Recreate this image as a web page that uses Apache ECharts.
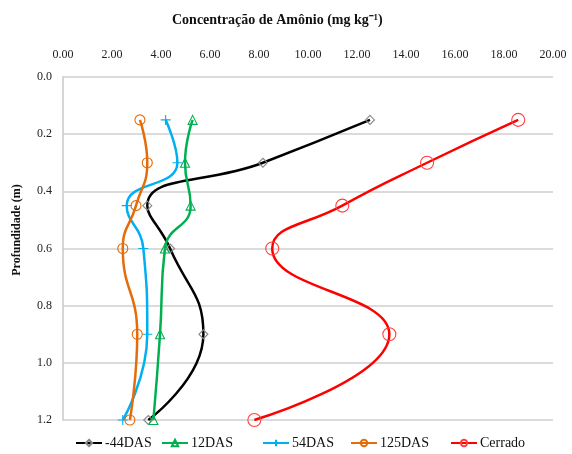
<!DOCTYPE html>
<html><head><meta charset="utf-8">
<script src="https://cdn.jsdelivr.net/npm/echarts@6/dist/echarts.min.js"></script>
<style>html,body{margin:0;padding:0;background:#fff}#c{width:572px;height:454px}</style>
</head><body><div id="c"></div>
<script>
const depths = [0.15, 0.3, 0.45, 0.6, 0.9, 1.2];
const das_m44 = [12.53, 8.16, 3.44, 4.37, 5.73, 3.48];
const das_12 = [5.29, 4.98, 5.21, 4.16, 3.96, 3.69];
const das_54 = [4.19, 4.67, 2.60, 3.28, 3.44, 2.44];
const das_125 = [3.14, 3.44, 2.98, 2.44, 3.03, 2.73];
const cerrado = [18.58, 14.86, 11.40, 8.54, 13.32, 7.81];
const seriesNames = ['-44DAS', '12DAS', '54DAS', '125DAS', 'Cerrado'];
const xTicks = [0, 2, 4, 6, 8, 10, 12, 14, 16, 18, 20];
const yTicks = [0, 0.2, 0.4, 0.6, 0.8, 1.0, 1.2];
const titleText = 'Concentração de Amônio (mg kg⁻¹)';
const yTitleText = 'Profundidade (m)';

const font = 'Liberation Serif, Times New Roman, serif';
function pts(vals){ return vals.map((v,i)=>[v, depths[i]]); }
function mk(name, vals, color, symbol, size, mColor){
  return {
    name, type:'line', data: pts(vals), smooth: 0.5,
    symbol, symbolSize: size, showSymbol:true,
    lineStyle:{color, width:2.5},
    itemStyle:{color:'rgba(255,255,255,0)', borderColor:mColor, borderWidth:1.1},
    emphasis:{disabled:true}
  };
}
const legendLefts = [70, 156, 257, 345, 445];
const legends = seriesNames.map((n,i)=>({
  data:[n], left: legendLefts[i], top: 431, itemWidth: 26, itemHeight: 8, itemGap: 0,
  textStyle:{fontFamily:font, fontSize:14, color:'#111', padding:[0,0,0,-2]}
}));
const chart = echarts.init(document.getElementById('c'));
chart.setOption({
  animation:false,
  title:{text:titleText, left:167, top:8,
    textStyle:{fontFamily:font, fontSize:14, fontWeight:'bold', color:'#111'}},
  grid:{left:63, right:19, top:77, bottom:34},
  legend: legends,
  graphic:[{type:'text', x:17, y:230, rotation:Math.PI/2,
    style:{text:yTitleText, fontFamily:font, fontSize:12, fontWeight:'bold', fill:'#111',
      align:'center', verticalAlign:'middle'}}],
  xAxis:{type:'value', position:'top', min:xTicks[0], max:xTicks[xTicks.length-1], interval:2,
    axisLine:{show:false}, axisTick:{show:false},
    axisLabel:{formatter:v=>v.toFixed(2), fontFamily:font, fontSize:12, color:'#222', margin:16},
    splitLine:{show:false}},
  yAxis:{type:'value', inverse:true, min:yTicks[0], max:yTicks[yTicks.length-1], interval:0.2,
    axisLine:{show:true, lineStyle:{color:'#c8c8c8', width:1.5}}, axisTick:{show:false},
    axisLabel:{formatter:v=>v.toFixed(1), fontFamily:font, fontSize:12, color:'#222', margin:11},
    splitLine:{show:true, lineStyle:{color:'#cfcfcf', width:1.5}}},
  series:[
    mk(seriesNames[0], das_m44, '#000000', 'diamond', 9, '#888888'),
    mk(seriesNames[1], das_12, '#00B050', 'triangle', 9, '#00B050'),
    mk(seriesNames[2], das_54, '#00B0F0', 'path://M0,5L10,5M5,0L5,10', 10, '#00B0F0'),
    mk(seriesNames[3], das_125, '#E46C0A', 'circle', 10, '#E46C0A'),
    mk(seriesNames[4], cerrado, '#FF0000', 'circle', 13, '#FF4040')
  ]
});
</script></body></html>
